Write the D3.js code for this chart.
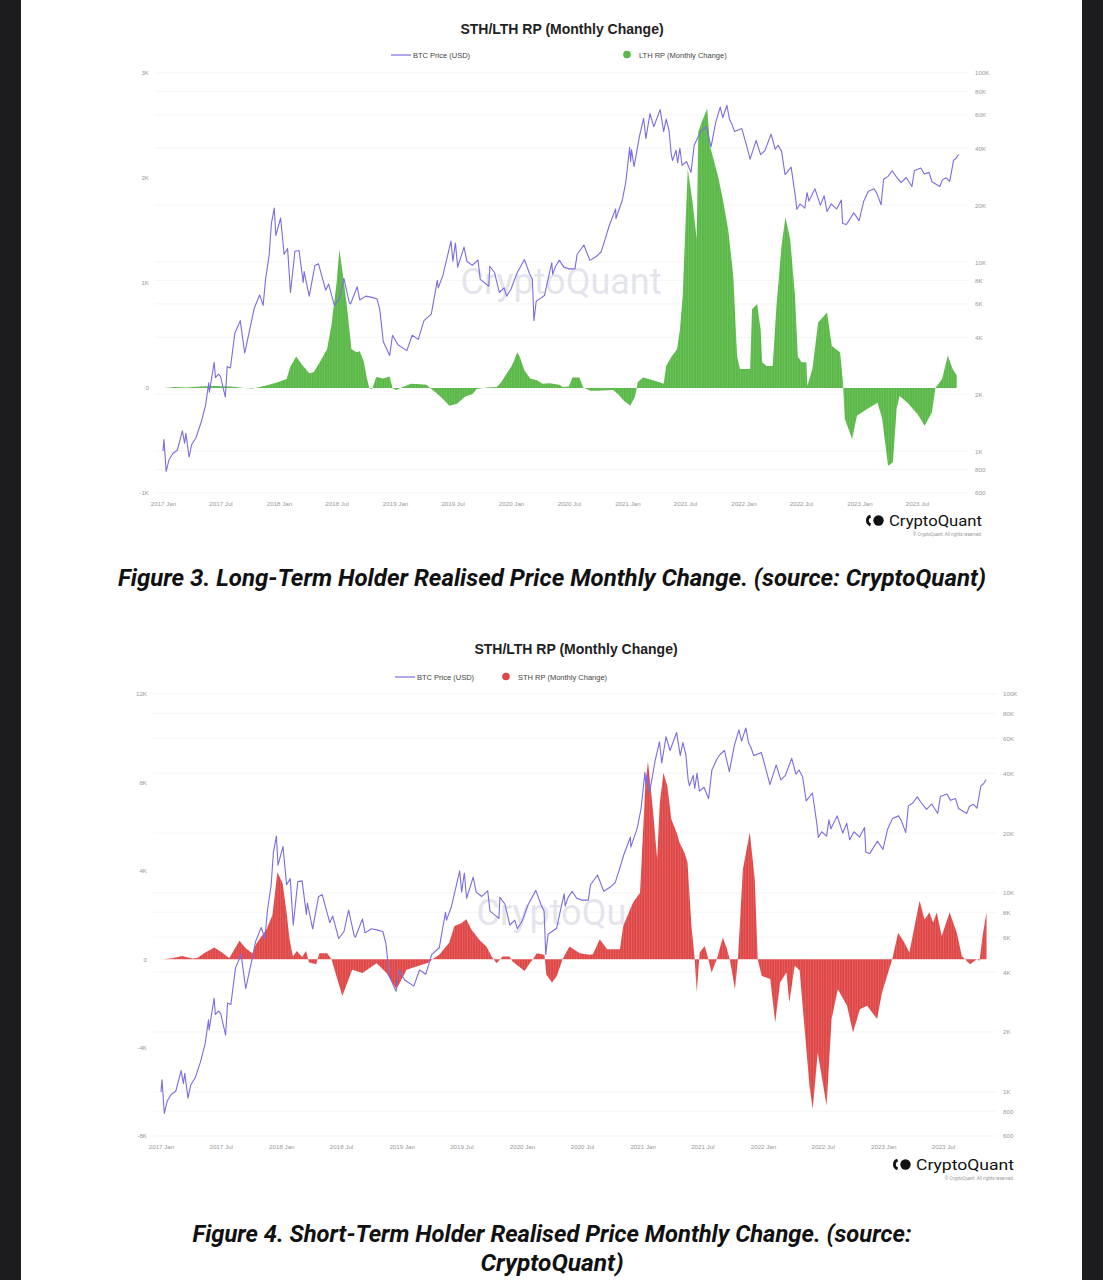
<!DOCTYPE html>
<html>
<head>
<meta charset="utf-8">
<script src="https://cdn.jsdelivr.net/npm/d3@7"></script>
<style>
  body { margin: 0; background: #fff; }
  svg { display: block; }
</style>
</head>
<body>
<svg id="page" width="1103" height="1280"></svg>
<script>
// ---- data ----
var btcPrice = [
  ["2017-01-01",1000],["2017-01-04",1150],["2017-01-11",780],["2017-01-20",900],["2017-02-01",970],
  ["2017-02-15",1010],["2017-03-03",1280],["2017-03-10",1100],["2017-03-14",1240],["2017-03-24",930],
  ["2017-04-01",1080],["2017-04-15",1180],["2017-05-01",1420],["2017-05-15",1750],["2017-05-25",2300],
  ["2017-05-27",2050],["2017-06-11",2950],["2017-06-15",2450],["2017-06-25",2550],["2017-07-01",2480],
  ["2017-07-16",1930],["2017-07-22",2800],["2017-08-01",2750],["2017-08-15",4200],["2017-09-01",4900],
  ["2017-09-15",3300],["2017-10-01",4400],["2017-10-15",5700],["2017-11-01",6700],["2017-11-12",5900],
  ["2017-11-20",8200],["2017-12-01",10900],["2017-12-08",16000],["2017-12-17",19300],["2017-12-22",13800],
  ["2018-01-06",17100],["2018-01-17",11000],["2018-01-28",11800],["2018-02-06",6900],["2018-02-20",11400],
  ["2018-03-05",11500],["2018-03-18",7800],["2018-03-21",8900],["2018-04-06",6600],["2018-04-24",9600],
  ["2018-05-05",9800],["2018-05-15",8500],["2018-05-28",7100],["2018-06-06",7650],["2018-06-24",5900],
  ["2018-07-10",6400],["2018-07-24",8200],["2018-08-10",6100],["2018-08-14",6000],["2018-09-04",7400],
  ["2018-09-12",6300],["2018-10-01",6600],["2018-10-20",6500],["2018-11-05",6400],["2018-11-14",5600],
  ["2018-11-25",3800],["2018-12-15",3200],["2018-12-24",4100],["2019-01-10",3650],["2019-02-07",3400],
  ["2019-02-24",4100],["2019-03-15",3900],["2019-04-02",4900],["2019-04-25",5300],["2019-05-14",8000],
  ["2019-05-17",7300],["2019-06-01",8550],["2019-06-26",12900],["2019-07-02",10100],["2019-07-10",12600],
  ["2019-07-17",9400],["2019-08-06",12000],["2019-08-15",10100],["2019-09-01",9600],["2019-09-19",10250],
  ["2019-09-26",8100],["2019-10-23",7450],["2019-10-26",9500],["2019-11-10",8800],["2019-11-25",6900],
  ["2019-12-10",7300],["2019-12-18",6600],["2020-01-01",7200],["2020-01-19",8700],["2020-02-12",10300],
  ["2020-02-28",8700],["2020-03-08",8100],["2020-03-13",4900],["2020-03-20",6200],["2020-04-01",6400],
  ["2020-04-15",6650],["2020-04-30",8650],["2020-05-08",9900],["2020-05-11",8600],["2020-05-20",9500],
  ["2020-06-01",10200],["2020-06-15",9400],["2020-07-01",9200],["2020-07-20",9200],["2020-07-27",11000],
  ["2020-08-17",12300],["2020-09-05",10200],["2020-09-25",10700],["2020-10-10",11300],["2020-10-21",12900],
  ["2020-11-05",15600],["2020-11-25",19100],["2020-11-26",17000],["2020-12-16",21300],["2020-12-27",26500],
  ["2021-01-08",40500],["2021-01-11",34000],["2021-01-14",39200],["2021-01-22",32000],["2021-02-08",46400],
  ["2021-02-21",57500],["2021-02-28",45000],["2021-03-13",61000],["2021-03-25",52000],["2021-04-14",64000],
  ["2021-04-25",49000],["2021-05-03",57000],["2021-05-12",49500],["2021-05-19",37000],["2021-05-23",34500],
  ["2021-06-03",39000],["2021-06-08",33500],["2021-06-15",40000],["2021-06-22",32500],["2021-07-06",34000],
  ["2021-07-20",29800],["2021-07-30",41500],["2021-08-14",47000],["2021-08-23",49500],["2021-09-06",52000],
  ["2021-09-21",40700],["2021-10-06",55000],["2021-10-20",66000],["2021-10-28",58000],["2021-11-10",67500],
  ["2021-11-18",57000],["2021-11-26",53500],["2021-12-04",49000],["2021-12-27",50800],["2022-01-10",41800],
  ["2022-01-22",35000],["2022-02-10",44000],["2022-02-24",37000],["2022-03-10",39000],["2022-03-29",47500],
  ["2022-04-11",39500],["2022-04-20",41500],["2022-05-01",38500],["2022-05-12",29000],["2022-05-31",31800],
  ["2022-06-13",22500],["2022-06-18",19000],["2022-06-28",20300],["2022-07-13",19300],["2022-07-20",23300],
  ["2022-07-26",21000],["2022-08-14",24400],["2022-08-31",20000],["2022-09-12",22400],["2022-09-21",18500],
  ["2022-10-04",20300],["2022-10-21",19100],["2022-11-05",21300],["2022-11-09",16000],["2022-11-21",15800],
  ["2022-12-14",18200],["2022-12-31",16550],["2023-01-14",20900],["2023-01-29",23700],["2023-02-16",24400],
  ["2023-02-25",23000],["2023-03-10",20100],["2023-03-18",27400],["2023-04-01",28400],["2023-04-14",30400],
  ["2023-04-26",28400],["2023-05-12",26300],["2023-05-28",28000],["2023-06-15",25100],["2023-06-23",30500],
  ["2023-07-13",31400],["2023-07-24",29200],["2023-08-08",29800],["2023-08-17",26600],["2023-09-11",25100],
  ["2023-09-19",27200],["2023-10-01",27900],["2023-10-12",26700],["2023-10-24",34500],["2023-11-01",35400],
  ["2023-11-09",37200]
];

var lthChange = [
  ["2017-01-05",0],["2017-02-08",10],["2017-03-15",5],["2017-04-25",15],["2017-06-15",20],
  ["2017-08-01",15],["2017-09-15",0],["2017-10-10",-5],["2017-11-01",10],["2017-12-01",30],
  ["2018-01-01",60],["2018-01-25",85],["2018-02-05",200],["2018-02-24",300],["2018-03-15",220],
  ["2018-04-06",140],["2018-04-20",150],["2018-05-10",250],["2018-06-01",370],["2018-06-15",600],
  ["2018-07-01",1000],["2018-07-10",1320],["2018-07-20",1100],["2018-08-01",820],["2018-08-17",370],
  ["2018-09-02",340],["2018-09-12",350],["2018-09-25",250],["2018-10-03",115],["2018-10-12",0],
  ["2018-10-21",-10],["2018-11-03",105],["2018-11-25",90],["2018-12-15",110],["2018-12-24",0],
  ["2019-01-05",-20],["2019-01-25",10],["2019-02-20",40],["2019-03-20",35],["2019-04-10",30],
  ["2019-04-25",-10],["2019-05-10",-45],["2019-05-30",-100],["2019-06-21",-170],["2019-07-15",-150],
  ["2019-08-10",-80],["2019-09-01",-60],["2019-09-15",-10],["2019-10-15",5],["2019-11-17",10],
  ["2019-12-01",55],["2019-12-15",125],["2020-01-01",200],["2020-01-10",257],["2020-01-20",340],
  ["2020-01-28",300],["2020-02-12",170],["2020-03-01",90],["2020-03-22",75],["2020-04-10",40],
  ["2020-05-01",45],["2020-06-01",30],["2020-06-12",10],["2020-07-01",15],["2020-07-12",100],
  ["2020-08-03",100],["2020-08-15",5],["2020-09-06",-25],["2020-10-01",-25],["2020-11-17",-20],
  ["2020-12-03",-60],["2020-12-20",-120],["2021-01-10",-170],["2021-01-25",-80],["2021-02-03",60],
  ["2021-02-20",100],["2021-03-15",80],["2021-04-12",55],["2021-04-25",40],["2021-05-03",210],
  ["2021-05-20",300],["2021-06-06",370],["2021-06-15",550],["2021-06-24",880],["2021-07-02",1500],
  ["2021-07-10",2085],["2021-07-25",1770],["2021-08-07",1420],["2021-08-12",2440],["2021-08-25",2550],
  ["2021-09-09",2660],["2021-09-18",2300],["2021-09-27",2200],["2021-10-13",2020],["2021-10-28",1800],
  ["2021-11-14",1510],["2021-11-30",1070],["2021-12-12",300],["2021-12-21",180],["2022-01-22",180],
  ["2022-01-28",750],["2022-02-13",800],["2022-02-24",560],["2022-03-01",245],["2022-03-15",210],
  ["2022-04-03",210],["2022-04-15",785],["2022-05-01",1355],["2022-05-13",1625],["2022-05-28",1420],
  ["2022-06-12",880],["2022-06-21",300],["2022-07-03",245],["2022-07-18",245],["2022-07-21",20],
  ["2022-08-06",180],["2022-08-24",625],["2022-09-21",720],["2022-10-06",400],["2022-11-01",340],
  ["2022-11-10",55],["2022-11-16",-295],["2022-12-09",-485],["2022-12-24",-265],["2023-01-25",-200],
  ["2023-02-27",-140],["2023-03-13",-285],["2023-04-01",-740],["2023-04-16",-710],["2023-04-28",-200],
  ["2023-05-07",-75],["2023-06-01",-140],["2023-07-03",-250],["2023-07-25",-360],["2023-08-17",-230],
  ["2023-08-28",0],["2023-09-18",85],["2023-10-06",310],["2023-10-21",180],["2023-11-03",120]
];

var sthChange = [
  ["2017-01-05",0],["2017-02-03",40],["2017-03-06",150],["2017-04-06",30],["2017-04-21",50],
  ["2017-05-15",300],["2017-06-12",530],["2017-07-05",300],["2017-07-27",50],["2017-08-27",830],
  ["2017-09-15",500],["2017-10-05",270],["2017-10-17",700],["2017-11-17",1360],["2017-12-05",2000],
  ["2017-12-20",3930],["2018-01-05",3430],["2018-01-17",2100],["2018-01-26",900],["2018-02-05",120],
  ["2018-02-17",375],["2018-03-05",100],["2018-03-17",375],["2018-03-26",-150],["2018-04-17",-230],
  ["2018-04-26",270],["2018-05-20",270],["2018-06-02",0],["2018-07-05",-1660],["2018-08-04",-480],
  ["2018-09-04",-630],["2018-10-17",-180],["2018-11-16",-630],["2018-12-16",-1360],["2019-01-16",-480],
  ["2019-02-15",-330],["2019-03-25",-150],["2019-04-04",0],["2019-04-25",200],["2019-05-25",750],
  ["2019-06-10",1500],["2019-07-01",1630],["2019-07-16",1810],["2019-08-01",1330],["2019-08-25",870],
  ["2019-09-15",570],["2019-10-01",120],["2019-10-16",-180],["2019-11-03",120],["2019-11-24",120],
  ["2019-12-03",-100],["2020-01-09",-530],["2020-01-24",-200],["2020-02-03",0],["2020-02-15",270],
  ["2020-03-09",200],["2020-03-15",-700],["2020-04-01",-1050],["2020-04-15",-780],["2020-05-03",0],
  ["2020-05-24",570],["2020-06-24",270],["2020-07-24",200],["2020-08-03",225],["2020-08-24",900],
  ["2020-09-15",450],["2020-10-24",450],["2020-11-03",1500],["2020-12-03",2560],["2020-12-24",3010],
  ["2021-01-09",7830],["2021-01-17",8960],["2021-02-02",6630],["2021-02-14",4520],["2021-02-22",7080],
  ["2021-03-05",8440],["2021-03-17",7830],["2021-03-29",6330],["2021-04-14",5730],["2021-04-23",5270],
  ["2021-05-08",4820],["2021-05-17",4370],["2021-05-29",1500],["2021-06-08",0],["2021-06-14",-1510],
  ["2021-06-23",300],["2021-07-08",600],["2021-07-14",300],["2021-07-29",-600],["2021-08-14",0],
  ["2021-09-01",980],["2021-09-14",450],["2021-09-23",-75],["2021-10-08",-1360],["2021-10-17",0],
  ["2021-11-01",4070],["2021-11-22",5730],["2021-12-07",3620],["2021-12-16",0],["2021-12-28",-750],
  ["2022-01-23",-900],["2022-02-07",-2860],["2022-02-22",-1050],["2022-03-13",-600],["2022-03-22",-1960],
  ["2022-04-07",-300],["2022-04-22",-500],["2022-05-22",-5730],["2022-06-01",-6780],["2022-06-16",-4220],
  ["2022-07-13",-6630],["2022-07-28",-2710],["2022-08-16",-1360],["2022-09-13",-2110],["2022-10-01",-3320],
  ["2022-10-22",-2260],["2022-11-13",-2110],["2022-12-13",-2710],["2022-12-28",-1510],["2023-01-28",0],
  ["2023-02-15",1200],["2023-03-06",750],["2023-03-21",300],["2023-04-21",2640],["2023-05-06",1800],
  ["2023-05-21",2110],["2023-06-01",1660],["2023-06-12",2110],["2023-06-27",1050],["2023-07-21",2110],
  ["2023-08-12",1200],["2023-08-27",150],["2023-09-21",-225],["2023-10-12",0],["2023-10-20",-75],
  ["2023-10-29",1050],["2023-11-10",2110]
];

var xTicks = ["2017-01-01","2017-07-01","2018-01-01","2018-07-01","2019-01-01","2019-07-01","2020-01-01",
              "2020-07-01","2021-01-01","2021-07-01","2022-01-01","2022-07-01","2023-01-01","2023-07-01"];
var leftTicksLTH = [-1000, 0, 1000, 2000, 3000];
var leftTicksSTH = [-8000, -4000, 0, 4000, 8000, 12000];
var rightTicks = [600, 800, 1000, 2000, 4000, 6000, 8000, 10000, 20000, 40000, 60000, 80000, 100000];

var parse = d3.timeParse("%Y-%m-%d");
var price = btcPrice.map(function(d) { return {date: parse(d[0]), v: d[1]}; });

var svg = d3.select("#page");
svg.append("rect").attr("width", 1103).attr("height", 1280).attr("fill", "#fff");

// stripe patterns to mimic the dense daily bars
var defs = svg.append("defs");
function stripe(id, base, light) {
  var p = defs.append("pattern").attr("id", id)
    .attr("patternUnits", "userSpaceOnUse").attr("width", 2.6).attr("height", 6);
  p.append("rect").attr("width", 2.6).attr("height", 6).attr("fill", base);
  p.append("rect").attr("x", 2.1).attr("width", 0.5).attr("height", 6).attr("fill", light);
}
stripe("gStripe", "#59b847", "#80c971");
stripe("rStripe", "#df4747", "#e87676");

function fmtK(v) {
  if (Math.abs(v) >= 1000) return (v < 0 ? "-" : "") + Math.abs(v / 1000) + "K";
  return String(v);
}

function logo(g, x, y, cx) {
  // CryptoQuant wordmark
  g.append("path")
    .attr("d", d3.arc()({innerRadius: 3.2, outerRadius: 6, startAngle: Math.PI * 1.1, endAngle: Math.PI * 1.9}))
    .attr("transform", "translate(" + (x + 6) + "," + (y - 5.5) + ")")
    .attr("fill", "#111");
  g.append("circle").attr("cx", x + 12.5).attr("cy", y - 5.5).attr("r", 5.2).attr("fill", "#111");
  g.append("text").attr("x", x + 23).attr("y", y)
    .attr("font-family", "Roboto, sans-serif").attr("font-size", 15.5).attr("fill", "#111")
    .attr("textLength", cx - x - 23).attr("lengthAdjust", "spacingAndGlyphs")
    .text("CryptoQuant");
  g.append("text").attr("x", cx).attr("y", y + 10).attr("text-anchor", "end")
    .attr("font-family", "Roboto, sans-serif").attr("font-size", 4.5).attr("fill", "#999")
    .text("\u00a9 CryptoQuant. All rights reserved.");
}

function drawChart(cfg) {
  var g = svg.append("g");

  var x = d3.scaleTime()
    .domain([parse("2017-01-01"), parse("2023-07-01")])
    .range([cfg.xJan17, cfg.xJul23]);
  var yL = d3.scaleLinear().domain(cfg.leftDomain).range([cfg.bottom, cfg.top]);
  var yR = d3.scaleLog().domain([600, 100000]).range([cfg.bottom, cfg.top]);

  // title + legend
  g.append("text").attr("x", cfg.titleX).attr("y", cfg.titleY).attr("text-anchor", "middle")
    .attr("font-family", "Liberation Sans, Arial, sans-serif").attr("font-weight", "bold")
    .attr("font-size", 14).attr("fill", "#222").text("STH/LTH RP (Monthly Change)");

  g.append("line").attr("x1", cfg.legX).attr("x2", cfg.legX + 20)
    .attr("y1", cfg.legY).attr("y2", cfg.legY).attr("stroke", "#7a6ee0").attr("stroke-width", 1.2);
  g.append("text").attr("x", cfg.legX + 22).attr("y", cfg.legY + 2.6)
    .attr("font-family", "Liberation Sans, Arial, sans-serif").attr("font-size", 7.5).attr("fill", "#444")
    .text("BTC Price (USD)");
  g.append("circle").attr("cx", cfg.leg2X).attr("cy", cfg.legY - 0.5).attr("r", 3.8).attr("fill", cfg.color);
  g.append("text").attr("x", cfg.leg2X + 12).attr("y", cfg.legY + 2.6)
    .attr("font-family", "Liberation Sans, Arial, sans-serif").attr("font-size", 7.5).attr("fill", "#444")
    .text(cfg.seriesName);

  // gridlines on the price ticks
  g.append("g").selectAll("line").data(rightTicks).enter().append("line")
    .attr("x1", cfg.gridL).attr("x2", cfg.gridR)
    .attr("y1", function(d) { return yR(d); }).attr("y2", function(d) { return yR(d); })
    .attr("stroke", "#f2f2f4").attr("stroke-width", 0.8);

  // axes
  var axL = g.append("g").attr("transform", "translate(" + cfg.leftLabelX + ",0)")
    .call(d3.axisLeft(yL).tickValues(cfg.leftTicks).tickFormat(fmtK).tickSize(0).tickPadding(0));
  var axR = g.append("g").attr("transform", "translate(" + cfg.rightLabelX + ",0)")
    .call(d3.axisRight(yR).tickValues(rightTicks).tickFormat(fmtK).tickSize(0).tickPadding(0));
  var axX = g.append("g").attr("transform", "translate(0," + cfg.xLabelY + ")")
    .call(d3.axisBottom(x).tickValues(xTicks.map(parse)).tickFormat(d3.timeFormat("%Y %b"))
      .tickSize(0).tickPadding(0));
  [axL, axR, axX].forEach(function(a) {
    a.select(".domain").remove();
    a.selectAll("text").attr("font-family", "Liberation Sans, Arial, sans-serif")
      .attr("font-size", 6.2).attr("fill", "#9a9a9a");
  });

  // watermark
  g.append("text").attr("x", cfg.wmX).attr("y", cfg.wmY).attr("text-anchor", "middle")
    .attr("font-family", "Roboto, sans-serif").attr("font-size", 36).attr("fill", "#dcdce6")
    .attr("fill-opacity", 0.75).text("CryptoQuant");

  // monthly change area
  var series = cfg.data.map(function(d) { return {date: parse(d[0]), v: d[1]}; });
  g.append("path").datum(series)
    .attr("d", d3.area()
      .x(function(d) { return x(d.date); })
      .y0(yL(0))
      .y1(function(d) { return yL(d.v); }))
    .attr("fill", "url(#" + cfg.pattern + ")");

  // btc price
  g.append("path").datum(price)
    .attr("d", d3.line()
      .x(function(d) { return x(d.date); })
      .y(function(d) { return yR(d.v); }))
    .attr("fill", "none").attr("stroke", "#7a6ee0").attr("stroke-width", 1.1)
    .attr("stroke-linejoin", "round");

  logo(g, cfg.logoX, cfg.logoY, cfg.logoR);
}

drawChart({
  data: lthChange, color: "#59b847", pattern: "gStripe", seriesName: "LTH RP (Monthly Change)",
  leftDomain: [-1000, 3000], leftTicks: leftTicksLTH,
  top: 73, bottom: 493, xJan17: 163, xJul23: 917, gridL: 155, gridR: 968,
  leftLabelX: 149, rightLabelX: 975, xLabelY: 502,
  titleX: 562, titleY: 34, legX: 391, leg2X: 627, legY: 55,
  wmX: 561, wmY: 294, logoX: 866, logoY: 526, logoR: 982
});

drawChart({
  data: sthChange, color: "#df4747", pattern: "rStripe", seriesName: "STH RP (Monthly Change)",
  leftDomain: [-8000, 12000], leftTicks: leftTicksSTH,
  top: 694, bottom: 1136, xJan17: 161, xJul23: 943, gridL: 153, gridR: 996,
  leftLabelX: 147, rightLabelX: 1003, xLabelY: 1145,
  titleX: 576, titleY: 654, legX: 395, leg2X: 506, legY: 677,
  wmX: 577, wmY: 925, logoX: 893, logoY: 1170, logoR: 1014
});

// captions
function caption(txt, cx, y, len) {
  svg.append("text").attr("x", cx).attr("y", y).attr("text-anchor", "middle")
    .attr("font-family", "Roboto, Liberation Sans, sans-serif").attr("font-weight", "bold")
    .attr("font-style", "italic").attr("font-size", 23).attr("fill", "#111")
    .attr("textLength", len).attr("lengthAdjust", "spacingAndGlyphs").text(txt);
}
caption("Figure 3.  Long-Term Holder Realised Price Monthly Change. (source: CryptoQuant)", 552, 586, 868);
caption("Figure 4. Short-Term Holder Realised Price Monthly Change. (source:", 552, 1242, 719);
caption("CryptoQuant)", 552, 1271, 143);

// dark page edges
svg.append("rect").attr("x", 0).attr("y", 0).attr("width", 21).attr("height", 1280).attr("fill", "#1c1c1e");
svg.append("rect").attr("x", 1082).attr("y", 0).attr("width", 21).attr("height", 1280).attr("fill", "#1c1c1e");
</script>
</body>
</html>
